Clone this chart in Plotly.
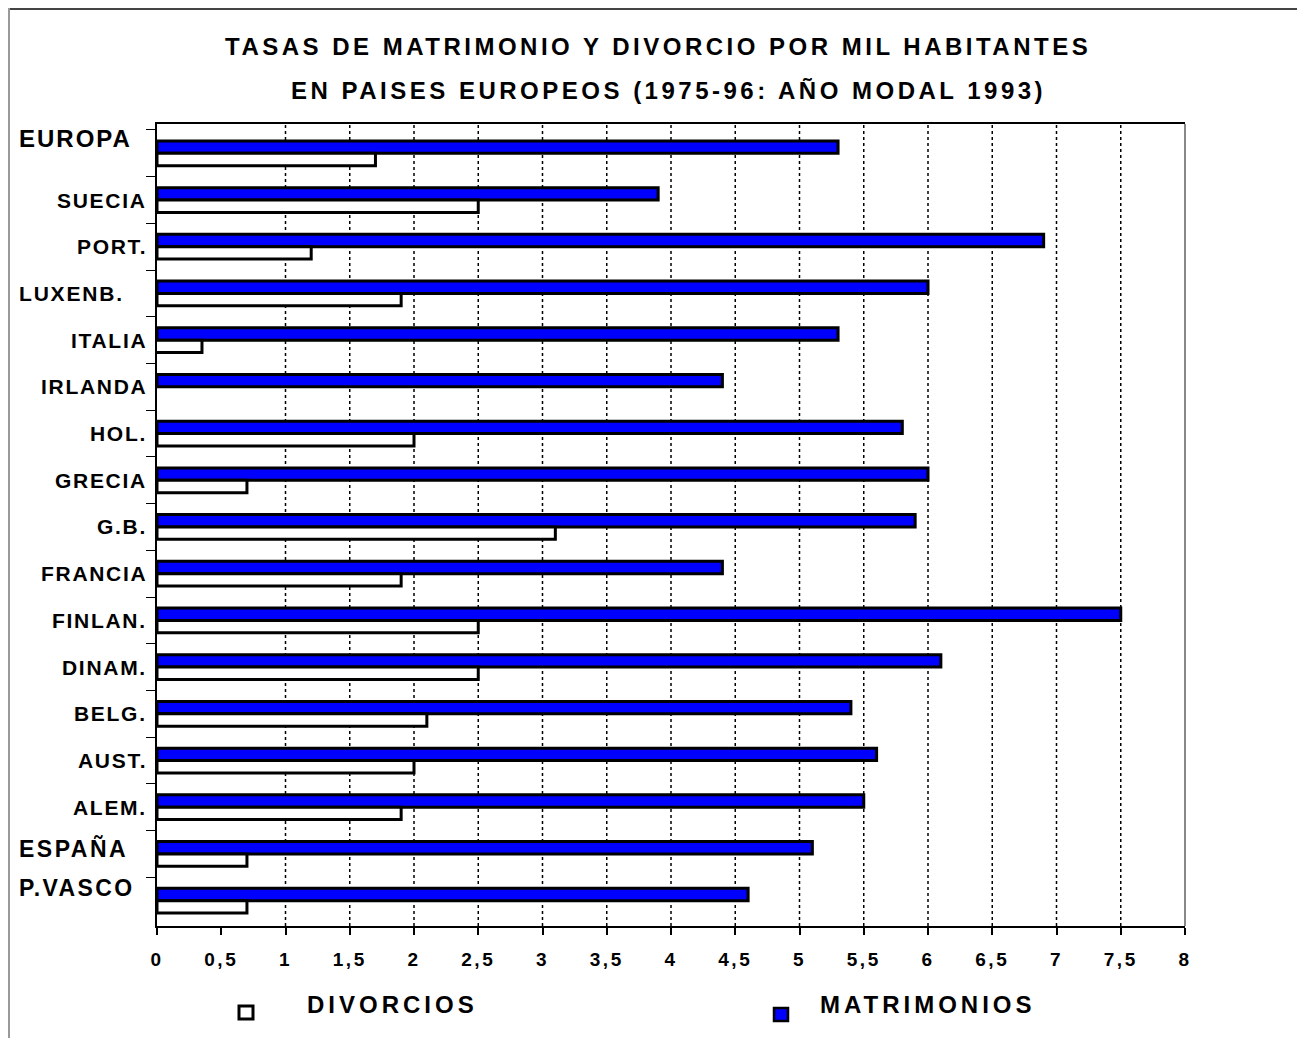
import plotly.graph_objects as go

# Datos (tasas por mil habitantes)
paises = ["EUROPA", "SUECIA", "PORT.", "LUXENB.", "ITALIA", "IRLANDA", "HOL.", "GRECIA",
          "G.B.", "FRANCIA", "FINLAN.", "DINAM.", "BELG.", "AUST.", "ALEM.", "ESPAÑA", "P.VASCO"]
matrimonios = [5.3, 3.9, 6.9, 6.0, 5.3, 4.4, 5.8, 6.0, 5.9, 4.4, 7.5, 6.1, 5.4, 5.6, 5.5, 5.1, 4.6]
divorcios = [1.7, 2.5, 1.2, 1.9, 0.42, None, 2.0, 0.7, 3.1, 1.9, 2.5, 2.5, 2.1, 2.0, 1.9, 0.7, 0.7]
divorcios_base = [0, 0, 0, 0, -0.07, 0, 0, 0, 0, 0, 0, 0, 0, 0, 0, 0, 0]

tick_vals = [0, 0.5, 1, 1.5, 2, 2.5, 3, 3.5, 4, 4.5, 5, 5.5, 6, 6.5, 7, 7.5, 8]
tick_labels = ["0", "0,5", "1", "1,5", "2", "2,5", "3", "3,5", "4", "4,5",
               "5", "5,5", "6", "6,5", "7", "7,5", "8"]
grid_vals = [1, 1.5, 2, 2.5, 3, 3.5, 4, 4.5, 5, 5.5, 6, 6.5, 7, 7.5]

title_lines = ["TASAS DE MATRIMONIO Y DIVORCIO POR MIL HABITANTES",
               "EN PAISES EUROPEOS (1975-96: AÑO MODAL 1993)"]

# The page body adds an 8px margin, so the figure is drawn 8px in from the window edge.
OFF = 8
W, H = 1297, 1030
L, R, T, B = 149, 120, 116, 112
PW, PH = W - L - R, H - T - B
FONT = "Liberation Sans, Arial, sans-serif"
BLUE = "#0000FF"


def px_x(p):
    # window pixel -> paper x
    return (p - OFF - L) / PW


def px_y(p):
    # window pixel -> paper y
    return (H - B - (p - OFF)) / PH


def spaced(text, sp):
    return f"<span style='letter-spacing:{sp}px'>{text}</span>"


fig = go.Figure()
fig.add_trace(go.Bar(
    y=paises, x=matrimonios, orientation="h", name="MATRIMONIOS",
    marker=dict(color=BLUE, line=dict(color="black", width=3)),
))
fig.add_trace(go.Bar(
    y=paises, x=divorcios, base=divorcios_base, orientation="h", name="DIVORCIOS",
    marker=dict(color="white", line=dict(color="black", width=3)), cliponaxis=False,
))

shapes = []
# dotted vertical grid
for g in grid_vals:
    shapes.append(dict(type="line", xref="x", yref="paper", x0=g, x1=g, y0=0, y1=1,
                       line=dict(color="black", width=1.5, dash="dot"), layer="below"))
# right border of plot area
shapes.append(dict(type="line", xref="paper", yref="paper", x0=1, x1=1, y0=0, y1=1,
                   line=dict(color="#888888", width=2)))
# outer frame (top and left)
shapes.append(dict(type="line", xref="paper", yref="paper", x0=px_x(8), x1=px_x(1310),
                   y0=px_y(9), y1=px_y(9), line=dict(color="#444444", width=2)))
shapes.append(dict(type="line", xref="paper", yref="paper", x0=px_x(9), x1=px_x(9),
                   y0=px_y(8), y1=px_y(1045), line=dict(color="#999999", width=2)))
# legend squares
shapes.append(dict(type="rect", xref="paper", yref="paper",
                   x0=px_x(239), x1=px_x(253), y0=px_y(1006), y1=px_y(1019),
                   fillcolor="white", line=dict(color="black", width=3)))
shapes.append(dict(type="rect", xref="paper", yref="paper",
                   x0=px_x(774), x1=px_x(788), y0=px_y(1008), y1=px_y(1021),
                   fillcolor=BLUE, line=dict(color="black", width=2.5)))

annotations = []
# title
for line, cx, cy in zip(title_lines, [658, 668], [47, 90]):
    annotations.append(dict(text=spaced(line, 3.5), xref="paper", yref="paper",
                            x=px_x(cx), y=px_y(cy), xanchor="center", yanchor="middle",
                            showarrow=False, font=dict(family=FONT, size=24, color="black", weight="bold")))

# country labels: (size, spacing, vertical shift) for the left-aligned ones
left_labels = {"EUROPA": (24, 2, 15), "LUXENB.": (21, 1.8, 0),
               "ESPAÑA": (23, 2.5, 5), "P.VASCO": (23, 2.4, 13)}
for p in paises:
    if p in left_labels:
        size, sp, shift = left_labels[p]
        annotations.append(dict(text=spaced(p, sp), xref="paper", yref="y", x=px_x(17), y=p,
                                yshift=shift, xanchor="left", yanchor="middle", showarrow=False,
                                font=dict(family=FONT, size=size, color="black", weight="bold")))
    else:
        annotations.append(dict(text=spaced(p, 1.7), xref="paper", yref="y", x=px_x(149), y=p,
                                xanchor="right", yanchor="middle", showarrow=False,
                                font=dict(family=FONT, size=21, color="black", weight="bold")))

# legend text
for name, lx in [("DIVORCIOS", 305), ("MATRIMONIOS", 818)]:
    annotations.append(dict(text=spaced(name, 4), xref="paper", yref="paper",
                            x=px_x(lx), y=px_y(1004), xanchor="left", yanchor="middle",
                            showarrow=False, font=dict(family=FONT, size=24, color="black", weight="bold")))

fig.update_layout(
    width=W, height=H,
    margin=dict(l=L, r=R, t=T, b=B),
    paper_bgcolor="white", plot_bgcolor="white",
    barmode="group", bargap=0.47, bargroupgap=0,
    showlegend=False,
    shapes=shapes, annotations=annotations,
)
fig.update_xaxes(
    range=[0, 8], tickmode="array", tickvals=tick_vals,
    ticktext=[spaced(t, 2.5) for t in tick_labels],
    ticks="outside", ticklen=7, tickcolor="black", tickwidth=1.5,
    showline=True, linecolor="black", linewidth=2, mirror=True,
    showgrid=False, zeroline=False, ticklabelstandoff=8,
    tickfont=dict(family=FONT, size=19, color="black", weight="bold"),
)
fig.update_yaxes(
    type="category", categoryorder="array", categoryarray=paises,
    range=[16.543, -0.628], tickson="boundaries",
    ticks="outside", ticklen=9, tickcolor="black", tickwidth=1,
    showline=True, linecolor="black", linewidth=2,
    showgrid=False, zeroline=False, showticklabels=False,
)

fig.write_html("out.html")
